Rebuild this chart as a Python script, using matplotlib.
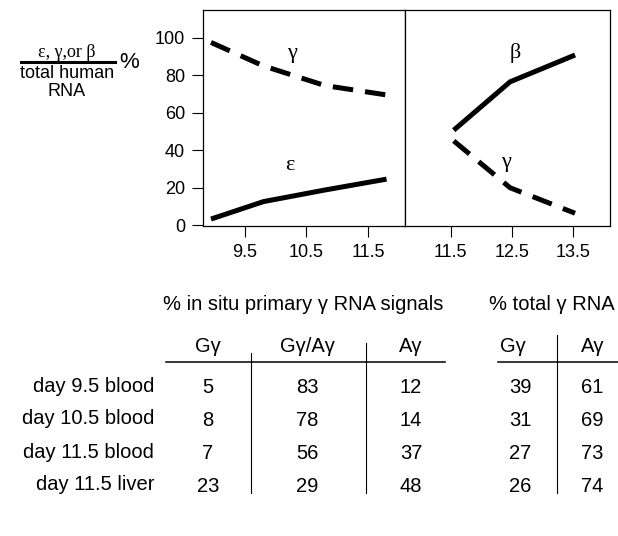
import matplotlib
matplotlib.use('Agg')
import matplotlib.pyplot as plt
from matplotlib.lines import Line2D

plt.rcParams['font.family'] = ['Liberation Sans', 'DejaVu Sans']

# ---- chart data ----
early_days = [8.95, 9.8, 10.8, 11.8]
early_gamma = [97.5, 85.0, 74.5, 69.5]
early_epsilon = [3.3, 12.6, 18.8, 24.6]
early_ticks = [9.5, 10.5, 11.5]

late_days = [11.55, 12.47, 13.53]
late_beta = [50.7, 76.5, 90.8]
late_gamma = [45.0, 20.0, 6.4]
late_ticks = [11.5, 12.5, 13.5]

y_ticks = [0, 20, 40, 60, 80, 100]

# ---- table data ----
row_labels = ['day 9.5 blood', 'day 10.5 blood', 'day 11.5 blood', 'day 11.5 liver']
insitu_title = '% in situ primary γ RNA signals'
total_title = '% total γ RNA'
insitu_headers = ['Gγ', 'Gγ/Aγ', 'Aγ']
total_headers = ['Gγ', 'Aγ']
insitu_G = [5, 8, 7, 23]
insitu_GA = [83, 78, 56, 29]
insitu_A = [12, 14, 37, 48]
total_G = [39, 31, 27, 26]
total_A = [61, 69, 73, 74]

W, H = 618, 536
fig = plt.figure(figsize=(W / 100, H / 100), dpi=100)


def fx(x):
    return x / W


def fy(y):
    return 1 - y / H


LW = 3.6
DASH = (0, (4.1, 2.4))
SERIF = ['Liberation Serif', 'DejaVu Serif']

ax1 = fig.add_axes([fx(203), fy(226), fx(405) - fx(203), fy(10) - fy(226)])
ax2 = fig.add_axes([fx(405), fy(226), fx(610) - fx(405), fy(10) - fy(226)])

ax1.plot(early_days, early_gamma, color='black', lw=LW, ls=DASH, dash_capstyle='butt',
         solid_capstyle='butt')
ax1.plot(early_days, early_epsilon, color='black', lw=LW, solid_capstyle='butt')
ax2.plot(late_days, late_beta, color='black', lw=LW, solid_capstyle='butt')
ax2.plot(late_days, late_gamma, color='black', lw=LW, ls=DASH, dash_capstyle='butt')

ax1.set_xlim(8.82, 12.10)
ax2.set_xlim(10.755, 14.10)
for ax in (ax1, ax2):
    ax.set_ylim(-0.4, 114.8)
    for s in ax.spines.values():
        s.set_linewidth(0.9)
        s.set_color('black')
    ax.tick_params(axis='both', direction='out', length=8, width=0.8,
                   labelsize=13, pad=5, colors='black')

ax1.set_xticks(early_ticks)
ax1.set_xticklabels([f'{t:g}' for t in early_ticks])
ax2.set_xticks(late_ticks)
ax2.set_xticklabels([f'{t:g}' for t in late_ticks])
ax1.set_yticks(y_ticks)
ax1.set_yticklabels([str(t) for t in y_ticks])
ax2.set_yticks([])

ax1.text(10.26, 91.8, 'γ', family=SERIF, fontsize=16, ha='center', va='center')
ax1.text(10.23, 32.1, 'ε', family=SERIF, fontsize=16, ha='center', va='center')
ax2.text(12.55, 91.8, 'β', family=SERIF, fontsize=16, ha='center', va='center')
ax2.text(12.41, 33.2, 'γ', family=SERIF, fontsize=16, ha='center', va='center')

# ---- y-axis label as a fraction ----
fig.text(fx(66.5), fy(52.5), 'ε, γ,or β', family=SERIF, fontsize=13,
         ha='center', va='center')
fig.add_artist(Line2D([fx(20.7), fx(115)], [fy(62), fy(62)], color='black', lw=2.2,
                      transform=fig.transFigure))
fig.text(fx(67.5), fy(73.5), 'total human', fontsize=13, ha='center', va='center')
fig.text(fx(66.5), fy(92), 'RNA', fontsize=13, ha='center', va='center')
fig.text(fx(129), fy(62.5), '%', fontsize=16, ha='center', va='center')

# ---- table ----
TFS = 14.5
fig.text(fx(303), fy(305), insitu_title, fontsize=TFS, ha='center', va='center')
fig.text(fx(552), fy(305), total_title, fontsize=TFS, ha='center', va='center')

insitu_cols = [208, 307, 411]
total_hdr_cols = [513, 593]
total_num_cols = [520, 592]
hdr_y = 346
for x, h in zip(insitu_cols, insitu_headers):
    fig.text(fx(x), fy(hdr_y), h, fontsize=TFS, ha='center', va='center')
for x, h in zip(total_hdr_cols, total_headers):
    fig.text(fx(x), fy(hdr_y), h, fontsize=TFS, ha='center', va='center')

row_ys = [386, 419, 452, 485]
for y, lab, a, b, c, d, e in zip(row_ys, row_labels, insitu_G, insitu_GA, insitu_A,
                                 total_G, total_A):
    fig.text(fx(154), fy(y), lab, fontsize=TFS, ha='right', va='center')
    for x, v in zip(insitu_cols + total_num_cols, [a, b, c, d, e]):
        fig.text(fx(x), fy(y + 1.5), str(v), fontsize=TFS, ha='center', va='center')

rule_kw = dict(color='black', transform=fig.transFigure)
fig.add_artist(Line2D([fx(166), fx(445)], [fy(362), fy(362)], lw=1.1, **rule_kw))
fig.add_artist(Line2D([fx(498), fx(618)], [fy(362), fy(362)], lw=1.1, **rule_kw))
fig.add_artist(Line2D([fx(250.5), fx(250.5)], [fy(353), fy(493)], lw=0.8, **rule_kw))
fig.add_artist(Line2D([fx(366), fx(366)], [fy(343), fy(493)], lw=0.8, **rule_kw))
fig.add_artist(Line2D([fx(557), fx(557)], [fy(335), fy(493)], lw=0.8, **rule_kw))

fig.savefig('out.png', dpi=100)
